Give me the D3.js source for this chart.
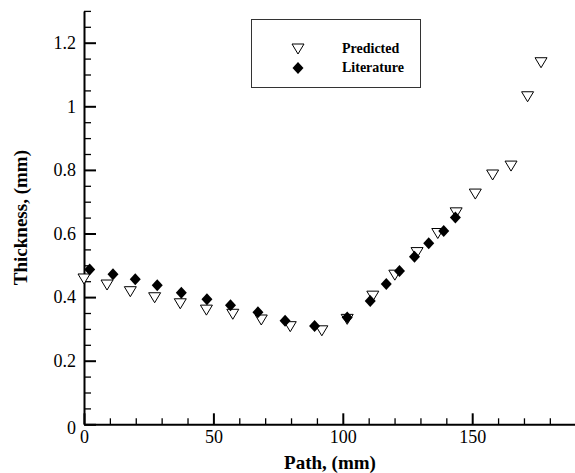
<!DOCTYPE html>
<html>
<head>
<meta charset="utf-8">
<script src="https://cdn.jsdelivr.net/npm/d3@7"></script>
<style>
  html, body { margin: 0; padding: 0; background: #fff; }
  svg { display: block; }
  text { font-family: "Liberation Serif", "Times New Roman", serif; }
</style>
</head>
<body>
<svg id="chart" width="575" height="473"></svg>
<script>
// ---- data ----
const predictedPath = [0, 8.9, 17.9, 27.3, 37.2, 47.3, 57.5, 68.5, 79.7, 91.9, 101.7, 111.6, 120.1, 128.7, 136.7, 143.8, 151.2, 157.9, 165.0, 171.4, 176.6];
const predictedThickness = [0.457, 0.438, 0.417, 0.398, 0.379, 0.359, 0.346, 0.328, 0.307, 0.294, 0.330, 0.403, 0.469, 0.540, 0.600, 0.665, 0.724, 0.784, 0.812, 1.030, 1.137];
const literaturePath = [2.2, 11.2, 19.8, 28.3, 37.6, 47.5, 56.6, 67.2, 77.7, 89.1, 101.7, 110.6, 116.8, 121.9, 127.7, 133.2, 139.0, 143.5];
const literatureThickness = [0.487, 0.472, 0.456, 0.437, 0.414, 0.393, 0.374, 0.352, 0.326, 0.309, 0.336, 0.388, 0.441, 0.482, 0.527, 0.569, 0.608, 0.650];
const xTicks = [0, 50, 100, 150];
const xTickLabels = ["0", "50", "100", "150"];
const yTicks = [0, 0.2, 0.4, 0.6, 0.8, 1.0, 1.2];
const yTickLabels = ["0", "0.2", "0.4", "0.6", "0.8", "1", "1.2"];
const seriesNames = ["Predicted", "Literature"];
const xTitle = "Path, (mm)";
const yTitle = "Thickness, (mm)";

// ---- layout ----
const svg = d3.select("#chart");
const x = d3.scaleLinear().domain([0, 190]).range([84, 84 + 190 * 2.588]);
const y = d3.scaleLinear().domain([0, 1.3]).range([424.3, 424.3 - 1.3 * 318]);

const xMinor = d3.range(0, 191, 10).filter(v => v % 50 !== 0);
const yMinor = d3.range(0, 27).map(i => +(i * 0.05).toFixed(2)).filter(v => Math.abs(v / 0.2 - Math.round(v / 0.2)) > 1e-6);

// minor ticks
svg.append("g").attr("transform", `translate(0,${y(0)})`)
  .call(d3.axisBottom(x).tickValues(xMinor).tickSize(-6).tickSizeOuter(0).tickFormat(""))
  .call(g => g.select(".domain").remove())
  .call(g => g.selectAll("line").attr("stroke", "#000").attr("stroke-width", 1.3));
svg.append("g").attr("transform", `translate(${x(0)},0)`)
  .call(d3.axisLeft(y).tickValues(yMinor).tickSize(-7).tickSizeOuter(0).tickFormat(""))
  .call(g => g.select(".domain").remove())
  .call(g => g.selectAll("line").attr("stroke", "#000").attr("stroke-width", 1.3));

// major axes
const xAxis = svg.append("g").attr("transform", `translate(0,${y(0)})`)
  .call(d3.axisBottom(x).tickValues(xTicks).tickSize(-11).tickSizeOuter(0).tickPadding(6)
    .tickFormat((d, i) => xTickLabels[i]));
const yAxis = svg.append("g").attr("transform", `translate(${x(0)},0)`)
  .call(d3.axisLeft(y).tickValues(yTicks).tickSize(-12).tickSizeOuter(0).tickPadding(8)
    .tickFormat((d, i) => yTickLabels[i]));
[xAxis, yAxis].forEach(g => {
  g.select(".domain").attr("stroke", "#000").attr("stroke-width", 2);
  g.selectAll(".tick line").attr("stroke", "#000").attr("stroke-width", 2);
  g.selectAll(".tick text").attr("fill", "#000").attr("font-size", 18)
    .attr("font-family", "'Liberation Serif', serif");
});
xAxis.selectAll(".tick text").attr("dy", "0.71em");
yAxis.selectAll(".tick text").filter((d) => d === 0).attr("dy", "0.5em");

// axis titles
svg.append("text").attr("x", 330).attr("y", 469).attr("text-anchor", "middle")
  .attr("font-weight", "bold").attr("font-size", 19).text(xTitle);
svg.append("text").attr("transform", `translate(27,${(y(0) + y(1.3)) / 2}) rotate(-90)`)
  .attr("text-anchor", "middle").attr("font-weight", "bold").attr("font-size", 19).text(yTitle);

// markers
const triPath = "M-6,-5L6,-5L0,5Z";
const diaPath = "M0,-6L5.5,0L0,6L-5.5,0Z";

svg.append("g").selectAll("path").data(predictedPath).join("path")
  .attr("d", triPath)
  .attr("transform", (d, i) => `translate(${x(d)},${y(predictedThickness[i])})`)
  .attr("fill", "#fff").attr("stroke", "#000").attr("stroke-width", 1);

svg.append("g").selectAll("path").data(literaturePath).join("path")
  .attr("d", diaPath)
  .attr("transform", (d, i) => `translate(${x(d)},${y(literatureThickness[i])})`)
  .attr("fill", "#000");

// legend
const lg = svg.append("g");
lg.append("rect").attr("x", 251.5).attr("y", 19.5).attr("width", 169).attr("height", 68)
  .attr("fill", "#fff").attr("stroke", "#333").attr("stroke-width", 1);
lg.append("path").attr("d", triPath).attr("transform", "translate(298,49)")
  .attr("fill", "#fff").attr("stroke", "#000");
lg.append("path").attr("d", diaPath).attr("transform", "translate(298,68)").attr("fill", "#000");
lg.selectAll("text").data(seriesNames).join("text")
  .attr("x", 342).attr("y", (d, i) => 52.5 + i * 19.5)
  .attr("font-weight", "bold").attr("font-size", 14).text(d => d);
</script>
</body>
</html>
